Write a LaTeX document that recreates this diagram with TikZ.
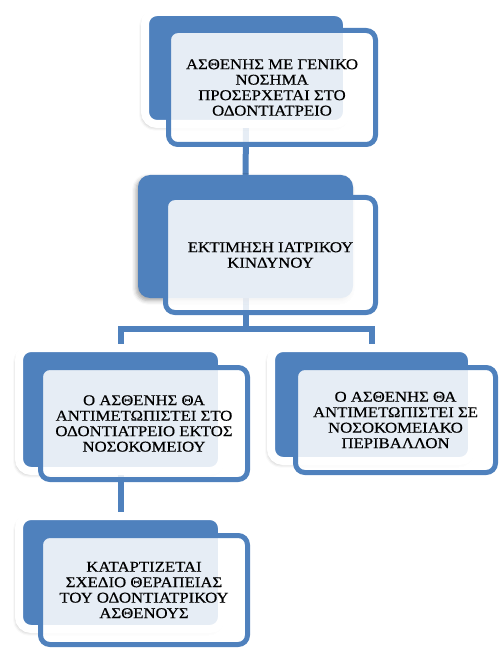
\documentclass[tikz,border=0pt]{standalone}
\usepackage{fontspec}
\setmainfont{Liberation Serif}
\newfontfamily\boxfont[FakeStretch=1.12, FakeBold=0.5]{Liberation Serif}
\usetikzlibrary{backgrounds,shadows.blur}
\definecolor{accent}{RGB}{79,129,189}
\begin{document}
\begin{tikzpicture}[x=.75pt, y=-.75pt,
    back/.style={fill=accent, draw=white, line width=6pt, rounded corners=9pt,
        blur shadow={shadow xshift=-1.5pt, shadow yshift=-2pt, shadow blur radius=3pt, shadow opacity=35}},
    front/.style={fill=white, fill opacity=.86, text opacity=1, draw=accent, line width=3.75pt,
        rounded corners=7pt, align=center, font=\boxfont\fontsize{11.2}{11.6}\selectfont},
    link/.style={draw=accent, line width=4.5pt}]
\useasboundingbox (0,0) rectangle (499,648);
\node[back, minimum width=151.5pt, minimum height=84pt] (b1) at (246,68) {};
\node[front, minimum width=155.25pt, minimum height=85.5pt] (f1) at (272,87.5)
    {ΑΣΘΕΝΗΣ ΜΕ ΓΕΝΙΚΟ\\ΝΟΣΗΜΑ\\ΠΡΟΣΕΡΧΕΤΑΙ ΣΤΟ\\ΟΔΟΝΤΙΑΤΡΕΙΟ};
\node[back, draw=none, minimum width=161.25pt, minimum height=92.25pt] (b2) at (245.5,236.5) {};
\node[front, minimum width=157.5pt, minimum height=86.25pt] (f2) at (270.5,255)
    {ΕΚΤΙΜΗΣΗ ΙΑΤΡΙΚΟΥ\\ΚΙΝΔΥΝΟΥ};
\node[back, minimum width=152.25pt, minimum height=92.25pt] (b3) at (120.5,409.5) {};
\node[front, minimum width=155.25pt, minimum height=84pt] (f3) at (144,423.5)
    {Ο ΑΣΘΕΝΗΣ ΘΑ\\ΑΝΤΙΜΕΤΩΠΙΣΤΕΙ ΣΤΟ\\ΟΔΟΝΤΙΑΤΡΕΙΟ ΕΚΤΟΣ\\ΝΟΣΟΚΟΜΕΙΟΥ};
\node[back, minimum width=150.75pt, minimum height=84.75pt] (b4) at (371.5,404.5) {};
\node[front, minimum width=150pt, minimum height=78.75pt] (f4) at (395.5,420)
    {Ο ΑΣΘΕΝΗΣ ΘΑ\\ΑΝΤΙΜΕΤΩΠΙΣΤΕΙ ΣΕ\\ΝΟΣΟΚΟΜΕΙΑΚΟ\\ΠΕΡΙΒΑΛΛΟΝ};
\node[back, minimum width=152.25pt, minimum height=84.75pt] (b5) at (120.5,572.5) {};
\node[front, minimum width=155.25pt, minimum height=81.75pt] (f5) at (144,590)
    {ΚΑΤΑΡΤΙΖΕΤΑΙ\\ΣΧΕΔΙΟ ΘΕΡΑΠΕΙΑΣ\\ΤΟΥ ΟΔΟΝΤΙΑΤΡΙΚΟΥ\\ΑΣΘΕΝΟΥΣ};
\begin{scope}[on background layer]
\coordinate (split) at (b2.center |- 0,329);
\draw[link] (b1.center) -- (b2.center);
\draw[link] (b2.center) -- (split) -| (b3.center);
\draw[link] (split) -| (b4.center);
\draw[link] (b3.center) -- (b5.center);
\end{scope}
\end{tikzpicture}
\end{document}
